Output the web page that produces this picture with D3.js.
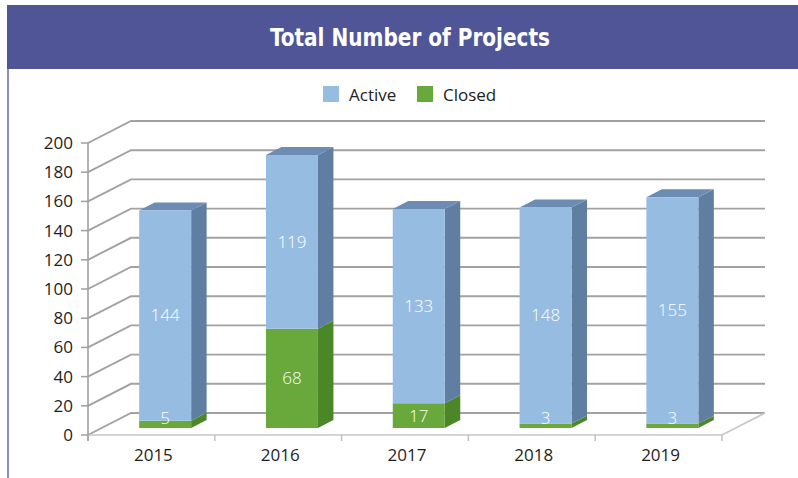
<!DOCTYPE html>
<html>
<head>
<meta charset="utf-8">
<script src="https://cdn.jsdelivr.net/npm/d3@7"></script>
<style>
  html, body { margin: 0; padding: 0; background: #ffffff; }
  svg { display: block; }
</style>
</head>
<body>
<svg id="chart" width="798" height="478"></svg>
<script>
// Project counts per year
const years = ["2015", "2016", "2017", "2018", "2019"];
const activeValues = [144, 119, 133, 148, 155];
const closedValues = [5, 68, 17, 3, 3];
const yTicks = [0, 20, 40, 60, 80, 100, 120, 140, 160, 180, 200];
const seriesNames = ["Active", "Closed"];

const svg = d3.select("#chart");
const W = 798, H = 478;

// Header band and frame
svg.append("rect").attr("x", 7).attr("y", 5).attr("width", W - 7).attr("height", 64)
  .attr("fill", "#4f5597");
svg.append("line").attr("x1", 8).attr("x2", 8).attr("y1", 69).attr("y2", H)
  .attr("stroke", "#8a8fcb").attr("stroke-width", 2);
svg.append("text").attr("x", 410).attr("y", 46)
  .attr("text-anchor", "middle")
  .attr("font-family", "'Liberation Sans Narrow', 'DejaVu Sans Condensed', 'Open Sans', sans-serif")
  .attr("font-weight", "bold").attr("font-size", 24)
  .attr("fill", "#ffffff")
  .attr("textLength", 280).attr("lengthAdjust", "spacingAndGlyphs")
  .text("Total Number of Projects");

// Legend
const colors = {
  Active: { front: "#97bce2", side: "#5f7ea2", top: "#6d8cb3" },
  Closed: { front: "#69a83b", side: "#4b8727", top: "#57962f" }
};
const legendX = [323, 417];
seriesNames.forEach((name, i) => {
  svg.append("rect").attr("x", legendX[i]).attr("y", 86).attr("width", 16).attr("height", 16)
    .attr("fill", colors[name].front);
  svg.append("text").attr("x", legendX[i] + 26).attr("y", 100.5)
    .attr("font-family", "'Open Sans', sans-serif").attr("font-size", 17)
    .attr("fill", "#222").text(name);
});

// 3D box geometry: front plane and a receding depth offset
const x0 = 88, x1 = 722;
const depthDX = 43, depthDY = -22;
const y = d3.scaleLinear().domain([0, 200]).range([435, 143]);
const x = d3.scaleBand().domain(years).range([x0, x1]).padding(0);
const proj = (px, v, z) => [px + depthDX * z, y(v) + depthDY * z];
const pts = arr => arr.map(p => p.join(",")).join(" ");

const gridColor = "#a2a2a2";
const grid = svg.append("g").attr("fill", "none").attr("stroke", gridColor).attr("stroke-width", 1.9);

// Back wall lines with their receding side-wall segments
yTicks.forEach(t => {
  grid.append("polyline").attr("points", pts([proj(x0, t, 0), proj(x0, t, 1), proj(x1, t, 1)]));
});

// Floor outline
svg.append("polyline")
  .attr("points", pts([proj(x0, 0, 0), proj(x1, 0, 0), proj(x1, 0, 1)]))
  .attr("fill", "none").attr("stroke", "#c6c6c6").attr("stroke-width", 1.6);

// Category ticks on the floor edge
years.map(d => x(d)).concat([x1]).forEach(cx => {
  svg.append("line").attr("x1", cx).attr("x2", cx).attr("y1", 435).attr("y2", 441)
    .attr("stroke", "#c0c0c0").attr("stroke-width", 1.5);
});

// Value axis
svg.append("line").attr("x1", x0).attr("x2", x0).attr("y1", y(200)).attr("y2", 441)
  .attr("stroke", "#a0a0a0").attr("stroke-width", 1.6);
yTicks.forEach(t => {
  svg.append("line").attr("x1", x0 - 7).attr("x2", x0).attr("y1", y(t)).attr("y2", y(t))
    .attr("stroke", "#a0a0a0").attr("stroke-width", 1.5);
  svg.append("text").attr("x", 73).attr("y", y(t)).attr("dy", "0.35em")
    .attr("text-anchor", "end")
    .attr("font-family", "'Open Sans', sans-serif").attr("font-size", 17)
    .attr("fill", "#1e1e1e").text(t);
});

// Year labels
years.forEach(yr => {
  svg.append("text").attr("x", x(yr) + x.bandwidth() / 2 + 2).attr("y", 455).attr("dy", "0.35em")
    .attr("text-anchor", "middle")
    .attr("font-family", "'Open Sans', sans-serif").attr("font-size", 17)
    .attr("fill", "#1e1e1e").text(yr);
});

// Stacked 3D bars
const zFront = 0.32, zBack = 0.68;
const barW = x.bandwidth() * 0.41;
const bars = svg.append("g");
const labels = svg.append("g")
  .attr("font-family", "'Open Sans', sans-serif").attr("font-weight", 300).attr("font-size", 17)
  .attr("fill", "#ffffff").attr("text-anchor", "middle");

years.forEach((yr, i) => {
  const left = x(yr) + (x.bandwidth() - barW) / 2;
  const right = left + barW;
  const segs = [
    { name: "Closed", lo: 0, hi: closedValues[i], value: closedValues[i] },
    { name: "Active", lo: closedValues[i], hi: closedValues[i] + activeValues[i], value: activeValues[i] }
  ];
  segs.forEach((s, k) => {
    const c = colors[s.name];
    const fBL = proj(left, s.lo, zFront), fBR = proj(right, s.lo, zFront);
    const fTL = proj(left, s.hi, zFront), fTR = proj(right, s.hi, zFront);
    const bBR = proj(right, s.lo, zBack), bTR = proj(right, s.hi, zBack), bTL = proj(left, s.hi, zBack);
    bars.append("polygon").attr("points", pts([fBR, bBR, bTR, fTR])).attr("fill", c.side);
    if (k === segs.length - 1) {
      bars.append("polygon").attr("points", pts([fTL, fTR, bTR, bTL])).attr("fill", c.top);
    }
    bars.append("polygon").attr("points", pts([fBL, fBR, fTR, fTL])).attr("fill", c.front);

    // Value label centred on the front face, kept clear of the floor
    const cx = (fBL[0] + fBR[0]) / 2;
    const cy = Math.min((fBL[1] + fTL[1]) / 2, fBL[1] - 10);
    labels.append("text").attr("x", cx).attr("y", cy).attr("dy", "0.35em").text(s.value);
  });
});
</script>
</body>
</html>
